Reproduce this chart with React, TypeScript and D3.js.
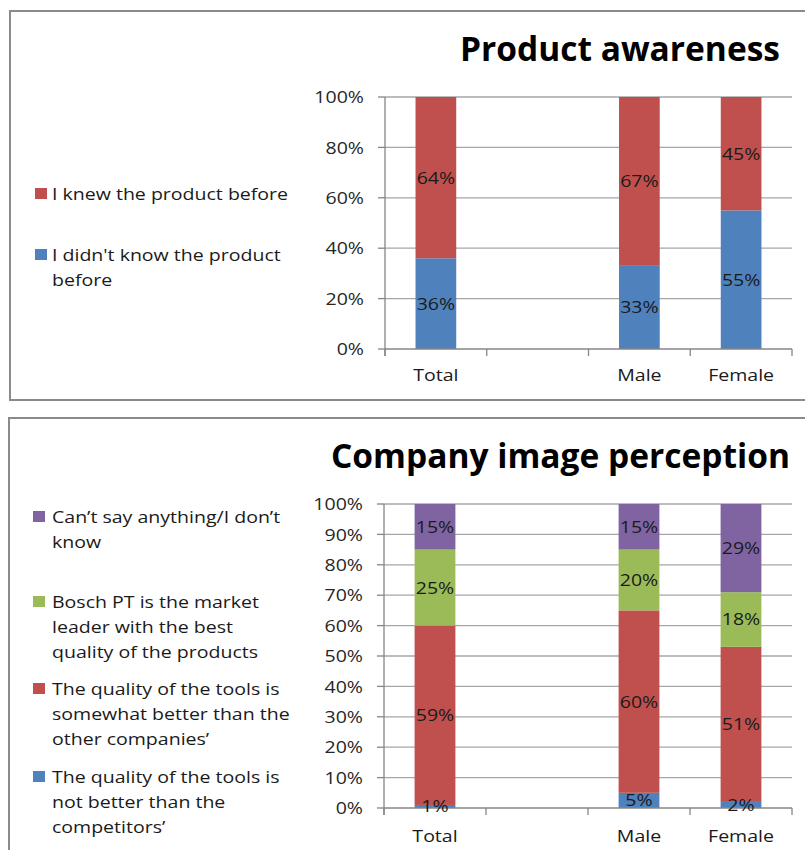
import React from "react";
import * as d3 from "d3";

// ---------- Data ----------
const categories = ["Total", "", "Male", "Female"];

// Product awareness (%)
const awarenessSeries = ["I didn't know the product before", "I knew the product before"];
const didntKnow = [36, null, 33, 55];
const knewBefore = [64, null, 67, 45];

// Company image perception (%)
const imageSeries = [
  "The quality of the tools is not better than the competitors’",
  "The quality of the tools is somewhat better than the other companies’",
  "Bosch PT is the market leader with the best quality of the products",
  "Can’t say anything/I don’t know",
];
const notBetter = [1, null, 5, 2];
const somewhatBetter = [59, null, 60, 51];
const marketLeader = [25, null, 20, 18];
const cantSay = [15, null, 15, 29];

const awarenessTicks = [0, 20, 40, 60, 80, 100];
const imageTicks = [0, 10, 20, 30, 40, 50, 60, 70, 80, 90, 100];

const BLUE = "#4F81BD";
const RED = "#C0504D";
const GREEN = "#9BBB59";
const PURPLE = "#8064A2";
const FONT = "'Open Sans', 'Liberation Sans', sans-serif";
const TEXT = "#1a1a1a";
const FS = 17;
const SX = 1.15;

function T(props: { x: number; y: number; anchor?: string; dy?: string; fill?: string; children: React.ReactNode }) {
  return (
    <text
      transform={`translate(${props.x},${props.y}) scale(${SX},1)`}
      dy={props.dy}
      textAnchor={props.anchor || "start"}
      fontSize={FS}
      fill={props.fill || TEXT}
      fontFamily={FONT}
    >
      {props.children}
    </text>
  );
}

type Series = { name: string; values: (number | null)[]; color: string };

function StackedChart(props: {
  series: Series[];
  ticks: number[];
  x0: number;
  x1: number;
  yTop: number;
  yBottom: number;
  labelY: number;
}) {
  const { series, ticks, x0, x1, yTop, yBottom, labelY } = props;
  const x = d3.scaleBand<string>().domain(categories.map((c, i) => String(i))).range([x0, x1]).paddingInner(0.6).paddingOuter(0.3);
  const y = d3.scaleLinear().domain([0, 100]).range([yBottom, yTop]);
  const step = x.step();
  const segs: React.ReactNode[] = [];
  const labels: React.ReactNode[] = [];
  categories.forEach((c, ci) => {
    let acc = 0;
    series.forEach((s, si) => {
      const v = s.values[ci];
      if (v == null) return;
      const top = acc + v;
      const bx = x(String(ci))!;
      segs.push(
        <rect key={`r${ci}-${si}`} x={bx} y={y(top)} width={x.bandwidth()} height={y(acc) - y(top)} fill={s.color} />
      );
      labels.push(
        <T key={`l${ci}-${si}`} x={bx + x.bandwidth() / 2} y={y(acc + v / 2)} dy="0.35em" anchor="middle">
          {v}%
        </T>
      );
      acc = top;
    });
  });
  return (
    <g>
      {ticks.filter((t) => t > 0).map((t) => (
        <line key={`g${t}`} x1={x0} x2={x1} y1={y(t)} y2={y(t)} stroke="#A6A6A6" strokeWidth={1.3} />
      ))}
      {ticks.map((t) => (
        <line key={`t${t}`} x1={x0 - 7} x2={x0} y1={y(t)} y2={y(t)} stroke="#868686" strokeWidth={1.3} />
      ))}
      {ticks.map((t) => (
        <T key={`tl${t}`} x={x0 - 21} y={y(t)} dy="0.36em" anchor="end" fill="#262626">
          {t}%
        </T>
      ))}
      {segs}
      <line x1={x0} x2={x0} y1={yTop} y2={yBottom + 7} stroke="#868686" strokeWidth={1.3} />
      <line x1={x0} x2={x1} y1={yBottom} y2={yBottom} stroke="#868686" strokeWidth={1.3} />
      {d3.range(categories.length + 1).map((i) => (
        <line key={`ct${i}`} x1={x0 + i * step} x2={x0 + i * step} y1={yBottom} y2={yBottom + 7} stroke="#868686" strokeWidth={1.3} />
      ))}
      {labels}
      {categories.map((c, ci) => (
        <T key={`c${ci}`} x={x(String(ci))! + x.bandwidth() / 2} y={labelY} anchor="middle">
          {c}
        </T>
      ))}
    </g>
  );
}

function Legend(props: { items: { lines: string[]; color: string; y: number }[]; sx: number; tx: number }) {
  return (
    <g>
      {props.items.map((it, i) => (
        <g key={i}>
          <rect x={props.sx} y={it.y - 12} width={12} height={11} fill={it.color} />
          {it.lines.map((ln, li) => (
            <T key={li} x={props.tx} y={it.y + li * 25}>
              {ln}
            </T>
          ))}
        </g>
      ))}
    </g>
  );
}

export default function App() {
  const awareness: Series[] = [
    { name: awarenessSeries[0], values: didntKnow, color: BLUE },
    { name: awarenessSeries[1], values: knewBefore, color: RED },
  ];
  const image: Series[] = [
    { name: imageSeries[0], values: notBetter, color: BLUE },
    { name: imageSeries[1], values: somewhatBetter, color: RED },
    { name: imageSeries[2], values: marketLeader, color: GREEN },
    { name: imageSeries[3], values: cantSay, color: PURPLE },
  ];
  return (
    <svg width={805} height={850} style={{ position: "absolute", left: 0, top: 0, background: "#fff" }}>
      <rect x={10} y={11} width={820} height={389} fill="#fff" stroke="#8a8a8a" strokeWidth={2} />
      <rect x={9} y={418} width={820} height={460} fill="#fff" stroke="#8a8a8a" strokeWidth={2} />

      <text x={780} y={61} textAnchor="end" fontSize={34} fontWeight="bold" fill="#000" fontFamily={FONT} textLength={320} lengthAdjust="spacingAndGlyphs">
        Product awareness
      </text>
      <StackedChart series={awareness} ticks={awarenessTicks} x0={385} x1={792} yTop={97} yBottom={349} labelY={381} />
      <Legend
        sx={35}
        tx={52}
        items={[
          { lines: ["I knew the product before"], color: RED, y: 200 },
          { lines: ["I didn't know the product", "before"], color: BLUE, y: 261 },
        ]}
      />

      <text x={790} y={468} textAnchor="end" fontSize={34} fontWeight="bold" fill="#000" fontFamily={FONT} textLength={459} lengthAdjust="spacingAndGlyphs">
        Company image perception
      </text>
      <StackedChart series={image} ticks={imageTicks} x0={384} x1={792} yTop={504} yBottom={808} labelY={842} />
      <Legend
        sx={33}
        tx={52}
        items={[
          { lines: ["Can’t say anything/I don’t", "know"], color: PURPLE, y: 523 },
          { lines: ["Bosch PT is the market", "leader with the best", "quality of the products"], color: GREEN, y: 608 },
          { lines: ["The quality of the tools is", "somewhat better than the", "other companies’"], color: RED, y: 695 },
          { lines: ["The quality of the tools is", "not better than the", "competitors’"], color: BLUE, y: 783 },
        ]}
      />
    </svg>
  );
}
